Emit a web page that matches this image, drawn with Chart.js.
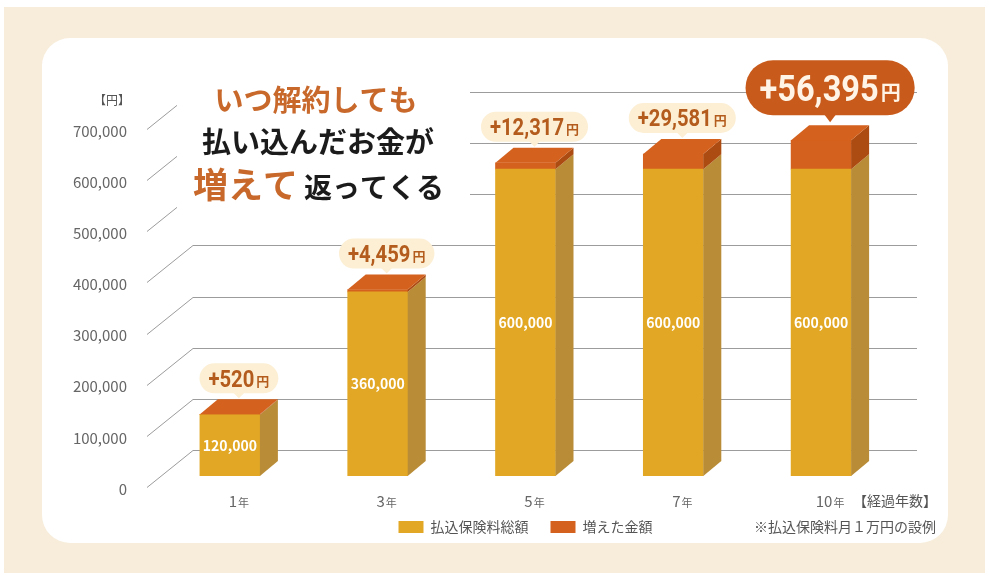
<!DOCTYPE html>
<html lang="ja">
<head>
<meta charset="utf-8">
<title>払込保険料総額と増えた金額</title>
<script src="https://cdn.jsdelivr.net/npm/chart.js@4.4.1/dist/chart.umd.min.js"></script>
<style>
  html, body { margin: 0; padding: 0; background: #fff; }
  #wrap { width: 989px; height: 580px; }
</style>
</head>
<body>
<div id="wrap"><canvas id="chart" width="989" height="580"></canvas></div>
<script>
// data
const years = ['1年', '3年', '5年', '7年', '10年'];
const paidTotal = [120000, 360000, 600000, 600000, 600000]; // 払込保険料総額
const gained = [520, 4459, 12317, 29581, 56395];           // 増えた金額
const yMax = 700000;
const yStep = 100000;

const FONT = '"Noto Sans CJK JP", "Noto Sans", sans-serif';
const YELLOW = '#e2a825';
const YELLOW_SIDE = '#b98c37';
const ORANGE = '#d4611d';
const ORANGE_SIDE = '#ad4c12';
const DX = 18, DY = 15; // depth of the fake 3d

const fmt = v => Number(v).toLocaleString('en-US');

function roundRect(ctx, x, y, w, h, r) {
  ctx.beginPath();
  ctx.moveTo(x + r, y);
  ctx.arcTo(x + w, y, x + w, y + h, r);
  ctx.arcTo(x + w, y + h, x, y + h, r);
  ctx.arcTo(x, y + h, x, y, r);
  ctx.arcTo(x, y, x + w, y, r);
  ctx.closePath();
}

function poly(ctx, pts, color) {
  ctx.beginPath();
  pts.forEach((p, i) => i ? ctx.lineTo(p[0], p[1]) : ctx.moveTo(p[0], p[1]));
  ctx.closePath();
  ctx.fillStyle = color;
  ctx.fill();
}

// speech bubble with the gain amount
function bubble(ctx, cx, tipY, value, big) {
  const text = '+' + fmt(value);
  const sx = 0.88;
  const numFont = big ? 'bold 37px Roboto' : 'bold 23px Roboto';
  const yenFont = big ? 'bold 20px ' + FONT : 'bold 13px ' + FONT;
  ctx.font = numFont;
  const wn = ctx.measureText(text).width * sx;
  ctx.font = yenFont;
  const wy = ctx.measureText('円').width;
  const padX = big ? 14 : 9;
  const h = big ? 55 : 30;
  const ptr = big ? 7 : 5;
  const w = wn + 2 + wy + padX * 2;
  const bottom = tipY - ptr;
  const top = bottom - h;

  ctx.fillStyle = big ? '#c85a1b' : '#fcefd4';
  roundRect(ctx, cx - w / 2, top, w, h, h / 2);
  ctx.fill();
  ctx.beginPath();
  ctx.moveTo(cx - 6, bottom - 1);
  ctx.lineTo(cx + 6, bottom - 1);
  ctx.lineTo(cx, tipY);
  ctx.closePath();
  ctx.fill();

  const cap = (big ? 37 : 23) * 0.711;
  const baseline = (top + bottom) / 2 + cap / 2;
  const x0 = cx - w / 2 + padX;
  ctx.fillStyle = big ? '#fff4e6' : '#b35c1d';
  ctx.textAlign = 'left';
  ctx.textBaseline = 'alphabetic';
  ctx.save();
  ctx.translate(x0, baseline);
  ctx.scale(sx, 1);
  ctx.font = numFont;
  ctx.fillText(text, 0, 0);
  ctx.restore();
  ctx.font = yenFont;
  ctx.fillText('円', x0 + wn + 2, baseline - 1);
}

const depthPlugin = {
  id: 'depth',
  beforeDraw(chart) {
    const ctx = chart.ctx;
    ctx.save();
    ctx.fillStyle = '#f7edda';
    ctx.fillRect(4, 7, 981, 566);
    ctx.fillStyle = '#fff';
    roundRect(ctx, 42, 38, 906, 505, 28);
    ctx.fill();
    // unit label
    ctx.fillStyle = '#555';
    ctx.font = '12px ' + FONT;
    ctx.textAlign = 'right';
    ctx.textBaseline = 'middle';
    ctx.fillText('【円】', 130, 100);
    ctx.restore();
  },
  beforeDatasetsDraw(chart) {
    const ctx = chart.ctx;
    const ys = chart.scales.y;
    const area = chart.chartArea;
    ctx.save();
    // floor + back wall grid
    ctx.strokeStyle = '#9c9c9c';
    ctx.lineWidth = 1;
    for (let v = 0; v <= yMax; v += yStep) {
      const py = Math.round(ys.getPixelForValue(v)) + 0.5;
      ctx.beginPath();
      ctx.moveTo(area.left - 9, py + 11);
      ctx.lineTo(area.left + 37, py - 26);
      ctx.lineTo(area.right + 22, py - 26);
      ctx.stroke();
    }
    // headline
    ctx.fillStyle = '#fff';
    ctx.fillRect(177, 74, 293, 140);
    ctx.textBaseline = 'middle';
    ctx.textAlign = 'center';
    ctx.fillStyle = '#c8692b';
    ctx.font = 'bold 29px ' + FONT;
    ctx.fillText('いつ解約しても', 316, 100);
    ctx.fillStyle = '#1b1b1b';
    ctx.fillText('払い込んだお金が', 318, 142);
    ctx.textAlign = 'left';
    ctx.textBaseline = 'alphabetic';
    ctx.fillStyle = '#c8692b';
    ctx.font = 'bold 35px ' + FONT;
    ctx.fillText('増えて', 193, 198);
    ctx.fillStyle = '#1b1b1b';
    ctx.font = 'bold 28px ' + FONT;
    ctx.fillText('返ってくる', 304, 198);
    ctx.restore();
  },
  afterDatasetsDraw(chart) {
    const ctx = chart.ctx;
    const base = chart.getDatasetMeta(0).data;
    const tops = chart.getDatasetMeta(1).data;
    ctx.save();
    base.forEach((bar, i) => {
      const cap = tops[i];
      const L = bar.x - bar.width / 2;
      const R = bar.x + bar.width / 2;
      const yTop = cap.y;
      const yMid = bar.y;
      const yBase = bar.base;
      poly(ctx, [[R, yMid], [R + DX, yMid - DY], [R + DX, yBase - DY], [R, yBase]], YELLOW_SIDE);
      poly(ctx, [[R, yTop], [R + DX, yTop - DY], [R + DX, yMid - DY], [R, yMid]], ORANGE_SIDE);
      poly(ctx, [[L, yTop], [L + DX, yTop - DY], [R + DX, yTop - DY], [R, yTop]], ORANGE);

      ctx.fillStyle = '#fff';
      ctx.font = 'bold 14px ' + FONT;
      ctx.textAlign = 'center';
      ctx.textBaseline = 'middle';
      ctx.fillText(fmt(paidTotal[i]), bar.x, (yMid + yBase) / 2);

      const big = i === gained.length - 1;
      bubble(ctx, bar.x + DX / 2, yTop - DY - (big ? 3 : 1), gained[i], big);
    });
    ctx.restore();
  },
  afterDraw(chart) {
    const ctx = chart.ctx;
    const xs = chart.scales.x;
    ctx.save();
    // category labels: number larger, 年 smaller
    ctx.fillStyle = '#666';
    ctx.textBaseline = 'alphabetic';
    ctx.textAlign = 'left';
    chart.data.labels.forEach((lab, i) => {
      const num = lab.replace('年', '');
      ctx.font = '15px ' + FONT;
      const wn = ctx.measureText(num).width;
      ctx.font = '11px ' + FONT;
      const wy = ctx.measureText('年').width;
      const cx = xs.getPixelForTick(i) + DX / 2;
      const x0 = cx - (wn + wy + 1) / 2;
      ctx.font = '15px ' + FONT;
      ctx.fillText(num, x0, 507);
      ctx.font = '11px ' + FONT;
      ctx.fillText('年', x0 + wn + 1, 507);
    });
    ctx.fillStyle = '#555';
    ctx.font = '14px ' + FONT;
    ctx.textAlign = 'right';
    ctx.textBaseline = 'middle';
    ctx.fillText('【経過年数】', 937, 501);
    ctx.fillText('※払込保険料月１万円の設例', 936, 527);
    ctx.restore();
  }
};

Chart.defaults.font.family = FONT;

new Chart(document.getElementById('chart'), {
  type: 'bar',
  data: {
    labels: years,
    datasets: [
      { label: '払込保険料総額', data: paidTotal, backgroundColor: YELLOW, borderWidth: 0, barThickness: 60 },
      { label: '増えた金額', data: gained, backgroundColor: ORANGE, borderWidth: 0, barThickness: 60 }
    ]
  },
  options: {
    responsive: false,
    animation: false,
    layout: { padding: { left: 60, right: 94, top: 118, bottom: 36 } },
    scales: {
      x: {
        stacked: true,
        grid: { display: false, drawTicks: false },
        border: { display: false },
        ticks: { display: false },
        afterFit(s) { s.height = 22; }
      },
      y: {
        stacked: true,
        min: 0,
        max: yMax,
        grid: { display: false, drawTicks: false },
        border: { display: false },
        ticks: { stepSize: yStep, color: '#666', font: { size: 15 }, padding: 29, labelOffset: 13, callback: v => fmt(v) },
        afterFit(s) { s.width = 96; }
      }
    },
    plugins: {
      legend: {
        position: 'bottom',
        fullSize: false,
        labels: { boxWidth: 25, boxHeight: 12, padding: 22, color: '#555', font: { size: 14 } }
      },
      tooltip: { enabled: false }
    }
  },
  plugins: [depthPlugin]
});
</script>
</body>
</html>
